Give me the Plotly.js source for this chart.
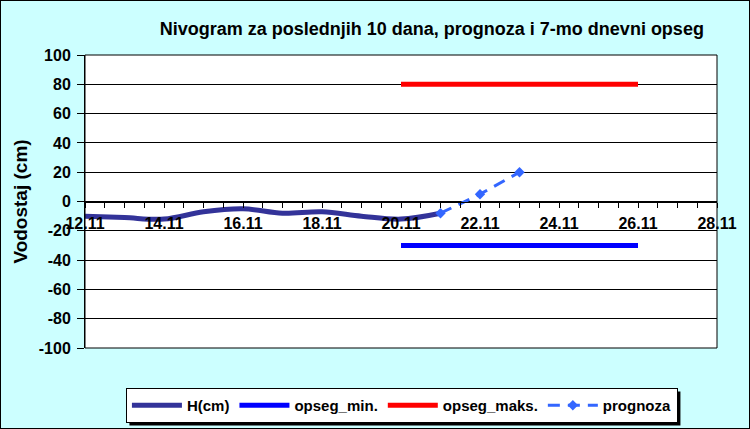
<!DOCTYPE html>
<html>
<head>
<meta charset="utf-8">
<script src="https://cdn.plot.ly/plotly-3.0.1.min.js"></script>
<style>
  html, body { margin: 0; padding: 0; background: #CCFFFF; }
  #chart { width: 750px; height: 429px; box-sizing: border-box; border: 1px solid #000; }
</style>
</head>
<body>
<div id="chart"></div>
<script>
// Observed days (last 10 days)
const hDates = ['2023-11-12','2023-11-13','2023-11-14','2023-11-15','2023-11-16',
                '2023-11-17','2023-11-18','2023-11-19','2023-11-20','2023-11-21'];
const hValues = [-10, -11, -12, -7, -5, -8, -7, -10, -12, -8];

// Forecast
const prognozaDates = ['2023-11-21','2023-11-22','2023-11-23'];
const prognozaValues = [-8, 5, 20];

// 7-day range
const opsegDates = ['2023-11-20','2023-11-26'];
const opsegMin = [-30, -30];
const opsegMax = [80, 80];

// Axis
const xRange = ['2023-11-12','2023-11-28'];
const yRange = [-100, 100];
const yTickVals = [-100, -80, -60, -40, -20, 0, 20, 40, 60, 80, 100];
const yTickText = ['-100', '-80', '-60', '-40', '-20', '0', '20', '40', '60', '80', '100'];

const font = 'Liberation Sans, Arial, sans-serif';

// plot-area pixel helpers for the legend shadow (plot area: x 85..717, y 55..348)
const px = v => (v - 85) / 632;
const py = v => (348 - v) / 293;

const traces = [
  {x: hDates, y: hValues, name: 'H(cm)', type: 'scatter', mode: 'lines',
   line: {color: '#333399', width: 5, shape: 'spline', smoothing: 1}},
  {x: opsegDates, y: opsegMin, name: 'opseg_min.', type: 'scatter', mode: 'lines',
   line: {color: '#0000FF', width: 5}},
  {x: opsegDates, y: opsegMax, name: 'opseg_maks.', type: 'scatter', mode: 'lines',
   line: {color: '#FF0000', width: 5}},
  {x: prognozaDates, y: prognozaValues, name: 'prognoza', type: 'scatter', mode: 'lines+markers',
   line: {color: '#3366FF', width: 3, dash: '12px,8px'},
   marker: {symbol: 'diamond', size: 8, color: '#3366FF'}}
];

const layout = {
  width: 748, height: 427,
  margin: {l: 84, r: 32, t: 54, b: 80},
  paper_bgcolor: '#CCFFFF',
  plot_bgcolor: '#FFFFFF',
  font: {family: font, color: '#000', size: 14},
  title: {text: '<b>Nivogram za poslednjih 10 dana, prognoza i 7-mo dnevni opseg</b>',
          font: {family: font, size: 18, color: '#000'},
          x: 0.576, xanchor: 'center', xref: 'container',
          y: 0.935, yanchor: 'middle', yref: 'container'},
  xaxis: {
    type: 'date', range: xRange,
    anchor: 'free', position: 0.5,
    showline: true, linecolor: '#000', linewidth: 1,
    showgrid: false, zeroline: false,
    ticks: 'outside', ticklen: 5, tickcolor: '#000',
    dtick: 2 * 86400000, tick0: '2023-11-12', tickformat: '%d.%m',
    ticklabelstandoff: 2,
    minor: {dtick: 43200000, ticks: 'outside', ticklen: 5, tickcolor: '#000', showgrid: false},
    tickfont: {family: font, size: 16, color: '#000', weight: 'bold'}
  },
  yaxis: {
    range: yRange, tickmode: 'array', tickvals: yTickVals, ticktext: yTickText,
    showline: true, linecolor: '#000', linewidth: 1,
    showgrid: true, gridcolor: '#000', gridwidth: 1,
    zeroline: false,
    ticks: 'outside', ticklen: 7, tickcolor: '#000',
    ticklabelstandoff: 3,
    tickfont: {family: font, size: 16, color: '#000', weight: 'bold'},
    title: {text: '<b>Vodostaj (cm)</b>', font: {family: font, size: 19, color: '#000'}, standoff: 6}
  },
  showlegend: true,
  legend: {
    orientation: 'h', x: 0.536, xanchor: 'center', xref: 'container',
    y: 0.0117, yanchor: 'bottom', yref: 'container',
    bgcolor: '#FFFFFF', bordercolor: '#000', borderwidth: 1,
    font: {family: font, size: 15, color: '#000', weight: 'bold'},
    itemwidth: 50, tracegroupgap: 0
  },
  shapes: [
    {type: 'rect', xref: 'paper', yref: 'paper', x0: 0, x1: 1, y0: 0, y1: 1,
     line: {color: '#000', width: 1}, fillcolor: 'rgba(0,0,0,0)', layer: 'above'}
  ]
};

Plotly.newPlot('chart', traces, layout, {displayModeBar: false, staticPlot: true}).then(gd => {
  // add a drop shadow just behind the legend box
  const bg = gd.querySelector('.legend .bg');
  if (bg) {
    const r = bg.getBoundingClientRect();
    const c = gd.getBoundingClientRect();
    const left = r.left - c.left + 3, right = r.right - c.left + 3;
    const top = r.top - c.top + 3, bottom = r.bottom - c.top + 3;
    Plotly.relayout(gd, {'shapes[1]': {type: 'rect', xref: 'paper', yref: 'paper',
      x0: px(left), x1: px(right), y0: py(bottom), y1: py(top),
      line: {width: 0}, fillcolor: '#000', layer: 'above'}});
  }
});
</script>
</body>
</html>
